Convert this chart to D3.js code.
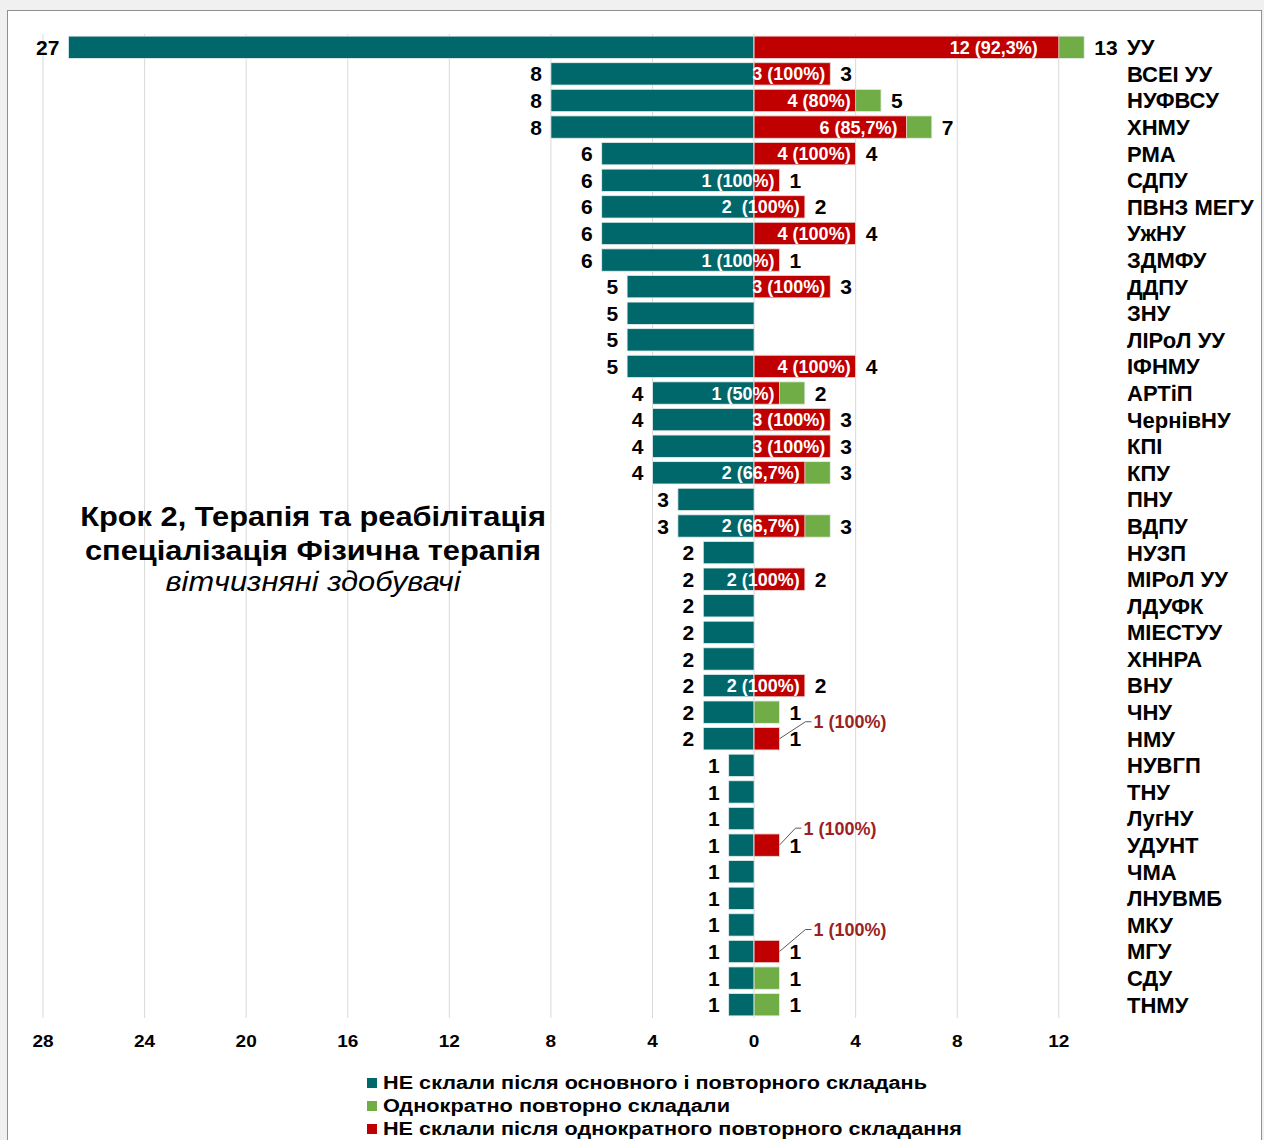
<!DOCTYPE html>
<html lang="uk">
<head>
  <meta charset="UTF-8">
  <title>Крок 2, Терапія та реабілітація</title>
  <script src="https://d3js.org/d3.v7.min.js"></script>
  <style>
    body { margin: 0; padding: 0; background: #f0f0f0; font-family: "Liberation Sans", Arial, sans-serif; }
    svg { display: block; }
    .grid line { stroke: #d9d9d9; stroke-width: 1; }
    .tick-lbl { font-size: 17px; font-weight: bold; fill: #000; }
    .cat-lbl { font-size: 22px; font-weight: bold; fill: #000; }
    .val-lbl { font-size: 21px; font-weight: bold; fill: #000; }
    .in-lbl { font-size: 18px; font-weight: bold; fill: #fff; white-space: pre; }
    .call-lbl { font-size: 18px; font-weight: bold; fill: #9c1f24; }
    .legend text { font-size: 18px; font-weight: bold; fill: #000; }
  </style>
</head>
<body>
  <svg width="1264" height="1140"></svg>
  <script>
    // === Дані ===
    const categories = ["УУ", "ВСЕІ УУ", "НУФВСУ", "ХНМУ", "РМА", "СДПУ", "ПВНЗ МЕГУ", "УжНУ", "ЗДМФУ",
      "ДДПУ", "ЗНУ", "ЛІРоЛ УУ", "ІФНМУ", "АРТіП", "ЧернівНУ", "КПІ", "КПУ", "ПНУ", "ВДПУ", "НУЗП",
      "МІРоЛ УУ", "ЛДУФК", "МІЕСТУУ", "ХННРА", "ВНУ", "ЧНУ", "НМУ", "НУВГП", "ТНУ", "ЛугНУ", "УДУНТ",
      "ЧМА", "ЛНУВМБ", "МКУ", "МГУ", "СДУ", "ТНМУ"];
    // НЕ склали після основного і повторного складань
    const failedMain = [27, 8, 8, 8, 6, 6, 6, 6, 6, 5, 5, 5, 5, 4, 4, 4, 4, 3, 3, 2, 2, 2, 2, 2, 2, 2, 2,
      1, 1, 1, 1, 1, 1, 1, 1, 1, 1];
    // Однократно повторно складали
    const retook = [13, 3, 5, 7, 4, 1, 2, 4, 1, 3, 0, 0, 4, 2, 3, 3, 3, 0, 3, 0, 2, 0, 0, 0, 2, 1, 1,
      0, 0, 0, 1, 0, 0, 0, 1, 1, 1];
    // НЕ склали після однократного повторного складання
    const failedRetake = [12, 3, 4, 6, 4, 1, 2, 4, 1, 3, 0, 0, 4, 1, 3, 3, 2, 0, 2, 0, 2, 0, 0, 0, 2, 0, 1,
      0, 0, 0, 1, 0, 0, 0, 1, 0, 0];
    const failedRetakeLabels = ["12 (92,3%)", "3 (100%)", "4 (80%)", "6 (85,7%)", "4 (100%)", "1 (100%)",
      "2  (100%)", "4 (100%)", "1 (100%)", "3 (100%)", "", "", "4 (100%)", "1 (50%)", "3 (100%)", "3 (100%)",
      "2 (66,7%)", "", "2 (66,7%)", "", "2 (100%)", "", "", "", "2 (100%)", "", "1 (100%)",
      "", "", "", "1 (100%)", "", "", "", "1 (100%)", "", ""];
    const ticks = [-28, -24, -20, -16, -12, -8, -4, 0, 4, 8, 12];
    const seriesNames = ["НЕ склали після основного і повторного складань",
      "Однократно повторно складали",
      "НЕ склали після однократного повторного складання"];
    const colors = ["#00676a", "#70ad47", "#c00000"];

    // мітки-виноски для маленьких червоних стовпців
    const callouts = { "НМУ": [26, -17], "УДУНТ": [16, -17], "МГУ": [26, -22] };

    const rows = categories.map((c, i) => ({
      cat: c, main: failedMain[i], retook: retook[i], fail: failedRetake[i], lbl: failedRetakeLabels[i]
    }));

    const svg = d3.select("svg");

    // рамка
    svg.append("rect").attr("x", 7.5).attr("y", 10.5).attr("width", 1254).attr("height", 1140)
      .attr("fill", "#fff").attr("stroke", "#8f8f8f");

    const x = d3.scaleLinear().domain([-28, 14]).range([43, 1109.6]);
    const y = d3.scaleBand().domain(categories).range([34, 1018]).paddingInner(0.16).paddingOuter(0.08);

    // сітка
    svg.append("g").attr("class", "grid")
      .selectAll("line").data(ticks).join("line")
      .attr("x1", d => x(d)).attr("x2", d => x(d))
      .attr("y1", 34).attr("y2", 1018);

    // підписи осі (трохи розтягнуті по горизонталі)
    svg.append("g").selectAll("text").data(ticks).join("text")
      .attr("class", "tick-lbl")
      .attr("transform", d => `translate(${x(d)},1047) scale(1.12,1)`)
      .attr("text-anchor", "middle")
      .text(d => Math.abs(d));

    const g = svg.append("g");

    // бірюзові стовпці (ліворуч)
    g.selectAll(".bar-main").data(rows).join("rect")
      .attr("class", "bar-main")
      .attr("x", d => x(-d.main)).attr("width", d => x(0) - x(-d.main))
      .attr("y", d => y(d.cat)).attr("height", y.bandwidth())
      .attr("fill", colors[0]).attr("stroke", "#e6eeee").attr("stroke-width", 0.8);

    // зелені стовпці (загальна кількість повторно складали)
    g.selectAll(".bar-retook").data(rows.filter(d => d.retook > 0)).join("rect")
      .attr("class", "bar-retook")
      .attr("x", x(0)).attr("width", d => x(d.retook) - x(0))
      .attr("y", d => y(d.cat)).attr("height", y.bandwidth())
      .attr("fill", colors[1]).attr("stroke", "#e6eee6").attr("stroke-width", 0.8);

    // червоні стовпці
    g.selectAll(".bar-fail").data(rows.filter(d => d.fail > 0)).join("rect")
      .attr("class", "bar-fail")
      .attr("x", x(0)).attr("width", d => x(d.fail) - x(0))
      .attr("y", d => y(d.cat)).attr("height", y.bandwidth())
      .attr("fill", colors[2]).attr("stroke", "#eedede").attr("stroke-width", 0.8);

    const mid = d => y(d.cat) + y.bandwidth() / 2;

    // значення ліворуч
    g.selectAll(".lbl-main").data(rows).join("text")
      .attr("class", "val-lbl")
      .attr("x", d => x(-d.main) - 9).attr("y", d => mid(d)).attr("dy", "0.36em")
      .attr("text-anchor", "end")
      .text(d => d.main);

    // значення праворуч
    g.selectAll(".lbl-retook").data(rows.filter(d => d.retook > 0)).join("text")
      .attr("class", "val-lbl")
      .attr("x", d => x(d.retook) + 10).attr("y", d => mid(d)).attr("dy", "0.36em")
      .text(d => d.retook);

    // підписи всередині червоних стовпців
    g.selectAll(".lbl-in").data(rows.filter(d => d.lbl && !callouts[d.cat])).join("text")
      .attr("class", "in-lbl")
      .attr("x", d => x(d.fail) - (d.fail > 10 ? 21 : d.fail === 6 ? 9 : 5))
      .attr("y", d => mid(d)).attr("dy", "0.36em")
      .attr("text-anchor", "end")
      .text(d => d.lbl);

    // виноски
    const co = rows.filter(d => callouts[d.cat]);
    g.selectAll(".leader").data(co).join("path")
      .attr("fill", "none").attr("stroke", "#595959").attr("stroke-width", 1)
      .attr("d", d => {
        const [dx, dy] = callouts[d.cat];
        const x0 = x(d.fail), y0 = mid(d);
        return `M${x0},${y0}L${x0 + dx},${y0 + dy}H${x0 + dx + 6}`;
      });
    g.selectAll(".lbl-call").data(co).join("text")
      .attr("class", "call-lbl")
      .attr("x", d => x(d.fail) + callouts[d.cat][0] + 8)
      .attr("y", d => mid(d) + callouts[d.cat][1]).attr("dy", "0.36em")
      .text(d => d.lbl);

    // назви закладів праворуч
    g.selectAll(".cat").data(rows).join("text")
      .attr("class", "cat-lbl")
      .attr("x", 1127).attr("y", d => mid(d)).attr("dy", "0.36em")
      .text(d => d.cat);

    // заголовок
    const title = svg.append("text").attr("text-anchor", "middle")
      .attr("transform", "translate(313,0) scale(1.1,1)");
    title.append("tspan").attr("x", 0).attr("y", 526)
      .style("font-size", "28px").style("font-weight", "bold").text("Крок 2, Терапія та реабілітація");
    title.append("tspan").attr("x", 0).attr("y", 560)
      .style("font-size", "28px").style("font-weight", "bold").text("спеціалізація Фізична терапія");
    title.append("tspan").attr("x", 0).attr("y", 591)
      .style("font-size", "28px").style("font-style", "italic").text("вітчизняні здобувачі");

    // легенда
    const legendWidths = [544, 347, 579];
    const leg = svg.append("g").attr("class", "legend");
    seriesNames.forEach((name, i) => {
      const ly = 1083 + i * 23;
      const ci = i === 0 ? 0 : i === 1 ? 1 : 2;
      leg.append("rect").attr("x", 367).attr("y", ly - 5).attr("width", 10).attr("height", 10)
        .attr("fill", colors[ci]);
      leg.append("text").attr("x", 383).attr("y", ly).attr("dy", "0.36em")
        .attr("textLength", legendWidths[i]).attr("lengthAdjust", "spacingAndGlyphs")
        .text(name);
    });
  </script>
</body>
</html>
